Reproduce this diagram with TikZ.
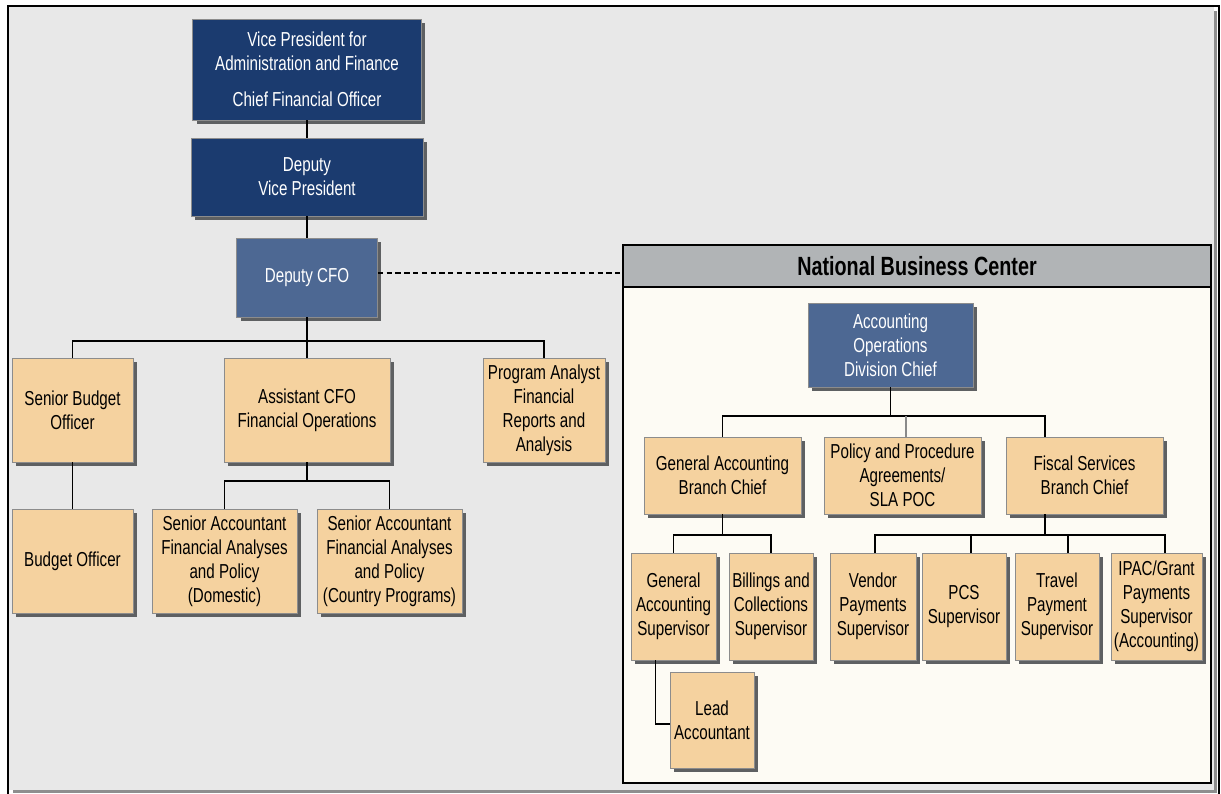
\documentclass[tikz,border=0pt]{standalone}
\usepackage{fontspec}
\setmainfont{Liberation Sans}[FakeStretch=0.75]
\usepackage{tikz}
\usetikzlibrary{positioning}
\usetikzlibrary{shadows}

\definecolor{bggray}{HTML}{E8E8E8}
\definecolor{bgshadow}{HTML}{8E8E8E}
\definecolor{navy}{HTML}{1B3B6F}
\definecolor{midblue}{HTML}{4D6893}
\definecolor{tan}{HTML}{F5D29F}
\definecolor{boxline}{HTML}{8C8C8C}
\definecolor{shadowgray}{HTML}{5E6062}
\definecolor{panelfill}{HTML}{FDFBF4}
\definecolor{headfill}{HTML}{B1B4B6}
\definecolor{linegray}{HTML}{8A8A8A}

\begin{document}
\begin{tikzpicture}[x=0.02cm, y=-0.02cm,
    font=\fontsize{11.5}{13.6}\selectfont,
    orgbox/.style={draw=boxline, line width=0.5pt, align=center, inner sep=1pt,
        drop shadow={shadow xshift=0.08cm, shadow yshift=-0.08cm, fill=shadowgray, opacity=1}},
    tanbox/.style={orgbox, fill=tan},
    navybox/.style={orgbox, fill=navy, text=white},
    bluebox/.style={orgbox, fill=midblue, text=white},
    sz/.style 2 args={minimum width=#1, minimum height=#2},
    conn/.style={line width=0.7pt}]
    \useasboundingbox (0,0) rectangle (1221,794);

    % page background
    \fill[bgshadow] (13,11) rectangle (1217,793);
    \fill[bggray] (9,7) rectangle (1214,790);
    \draw[line width=1.2pt] (8,794) -- (8,6) -- (1219,6) -- (1219,794);

    % NBC panel
    \node[draw, line width=0.8pt, fill=panelfill, sz={11.76cm}{9.92cm}] (nbc) at (917,535) {};
    \node[draw, line width=0.8pt, fill=headfill, sz={11.76cm}{0.84cm},
          font=\fontsize{15}{18}\selectfont\bfseries] (nbchead) at (917,266) {National Business Center};

    % left tree
    \node[navybox, sz={4.58cm}{2.02cm}] (vp) at (307,69.5) {Vice President for\\Administration and Finance\\[7pt]Chief Financial Officer};
    \node[navybox, sz={4.64cm}{1.56cm}] (dvp) at (307,177) {Deputy\\Vice President};
    \node[bluebox, sz={2.82cm}{1.58cm}] (dcfo) at (307,277.5) {Deputy CFO};

    \node[tanbox, sz={2.42cm}{2.08cm}] (sbo) at (72.5,410) {Senior Budget\\Officer};
    \node[tanbox, sz={3.32cm}{2.08cm}] (acfo) at (307,410) {Assistant CFO\\Financial Operations};
    \node[tanbox, sz={2.44cm}{2.08cm}] (pa) at (544,410) {Program Analyst\\Financial\\Reports and\\Analysis};
    \node[tanbox, sz={2.42cm}{2.08cm}] (bo) at (72.5,561) {Budget Officer};
    \node[tanbox, sz={2.90cm}{2.08cm}] (sad) at (224.5,561) {Senior Accountant\\Financial Analyses\\and Policy\\(Domestic)};
    \node[tanbox, sz={2.90cm}{2.08cm}] (sac) at (389.5,561) {Senior Accountant\\Financial Analyses\\and Policy\\(Country Programs)};

    % NBC tree
    \node[bluebox, sz={3.30cm}{1.68cm}] (aodc) at (890.5,345) {Accounting\\Operations\\Division Chief};
    \node[tanbox, sz={3.14cm}{1.54cm}] (gabc) at (722.5,475.5) {General Accounting\\Branch Chief};
    \node[tanbox, sz={3.14cm}{1.54cm}] (ppa) at (902.5,475.5) {Policy and Procedure\\Agreements/\\SLA POC};
    \node[tanbox, sz={3.14cm}{1.54cm}] (fsbc) at (1084.5,475.5) {Fiscal Services\\Branch Chief};

    \node[tanbox, sz={1.70cm}{2.14cm}] (gas) at (673.5,606.5) {General\\Accounting\\Supervisor};
    \node[tanbox, sz={1.68cm}{2.14cm}] (bcs) at (771,606.5) {Billings and\\Collections\\Supervisor};
    \node[tanbox, sz={1.72cm}{2.14cm}] (vps) at (873,606.5) {Vendor\\Payments\\Supervisor};
    \node[tanbox, sz={1.68cm}{2.14cm}] (pcs) at (964,606.5) {PCS\\Supervisor};
    \node[tanbox, sz={1.68cm}{2.14cm}] (tps) at (1057,606.5) {Travel\\Payment\\Supervisor};
    \node[tanbox, sz={1.82cm}{2.14cm}] (ips) at (1156.5,606.5) {IPAC/Grant\\Payments\\Supervisor\\(Accounting)};
    \node[tanbox, sz={1.68cm}{1.92cm}] (la) at (712,720) {Lead\\Accountant};

    % connectors, left
    \coordinate (b1) at (307,341);
    \coordinate (b2) at (307,481);
    \draw[conn] (vp) -- (dvp);
    \draw[conn] (dvp) -- (dcfo);
    \draw[conn] (dcfo) -- (b1);
    \draw[conn] (sbo.north) |- (b1) -| (pa.north);
    \draw[conn] (b1) -- (acfo);
    \draw[conn] (sbo) -- (bo);
    \draw[conn] (acfo) -- (b2);
    \draw[conn] (sad.north) |- (b2) -| (sac.north);
    \draw[line width=1.1pt, dash pattern=on 3pt off 2pt] ([yshift=0.09cm]dcfo.east) -- ([yshift=0.09cm]dcfo.east -| nbchead.west);

    % connectors, NBC
    \coordinate (b3) at (890.5,416);
    \coordinate (b4) at (722.5,535);
    \coordinate (b5) at (1045,535);
    \draw[conn] (aodc) -- (b3);
    \draw[conn] (gabc.north) |- (b3) -| (fsbc.north -| b5);
    \draw[conn, draw=linegray] (ppa.north -| 906,0) -- (b3 -| 906,0);
    \draw[conn] (gabc) -- (b4);
    \draw[conn] (gas.north) |- (b4) -| (bcs.north);
    \draw[conn] (fsbc.south -| b5) -- (b5);
    \draw[conn] ([xshift=0.04cm]vps.north) |- (b5) -| ([xshift=0.17cm]ips.north);
    \draw[conn] ([xshift=0.14cm]pcs.north) -- ([xshift=0.14cm]pcs.north |- b5);
    \draw[conn] ([xshift=0.22cm]tps.north) -- ([xshift=0.22cm]tps.north |- b5);
    \draw[conn] ([xshift=-0.36cm]gas.south) |- ([yshift=-0.08cm]la.west);
\end{tikzpicture}
\end{document}
